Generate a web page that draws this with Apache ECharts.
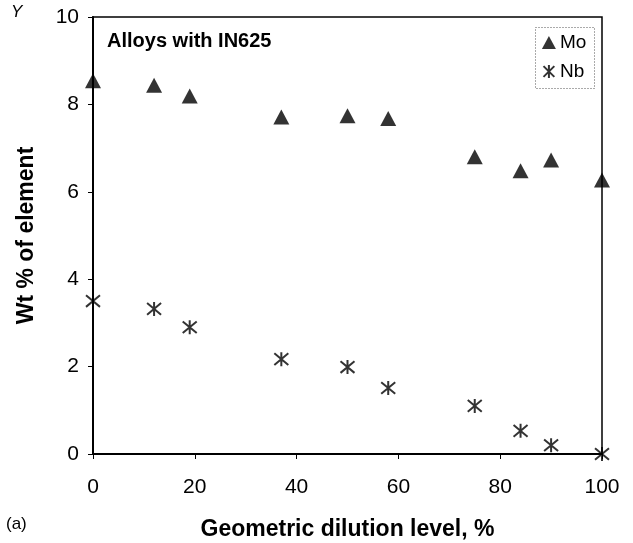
<!DOCTYPE html>
<html>
<head>
<meta charset="utf-8">
<script src="https://cdn.jsdelivr.net/npm/echarts@6/dist/echarts.min.js"></script>
<style>
  html, body { margin: 0; padding: 0; background: #fff; }
  #chart { width: 633px; height: 543px; }
</style>
</head>
<body>
<div id="chart"></div>
<script>
// Dilution level (%) for each alloy sample
const dilution = [0, 12, 19, 37, 50, 58, 75, 84, 90, 100];
// Element content, wt %
const moValues = [8.54, 8.44, 8.19, 7.71, 7.74, 7.68, 6.80, 6.48, 6.73, 6.27];
const nbValues = [3.50, 3.32, 2.90, 2.17, 1.99, 1.51, 1.10, 0.53, 0.20, 0.00];
const xTicks = [0, 20, 40, 60, 80, 100];
const yTicks = [0, 2, 4, 6, 8, 10];

const asterisk = 'path://M0,0L10,10M10,0L0,10M5,-1L5,11';
const font = 'Arial, "Liberation Sans", sans-serif';

const chart = echarts.init(document.getElementById('chart'));
chart.setOption({
  animation: false,
  backgroundColor: '#fff',
  textStyle: { fontFamily: font, color: '#000' },
  grid: {
    left: 93, right: 31, top: 17, bottom: 89,
    outerBoundsMode: 'none', containLabel: false,
    show: true, borderColor: '#000', borderWidth: 1.5
  },
  xAxis: {
    type: 'value', min: xTicks[0], max: xTicks[xTicks.length - 1], interval: 20,
    name: 'Geometric dilution level, %', nameLocation: 'middle', nameGap: 64,
    nameTextStyle: { fontSize: 23, fontWeight: 'bold', fontFamily: font, color: '#000' },
    axisLine: { lineStyle: { color: '#000', width: 2 } },
    axisTick: { show: true, length: 5, lineStyle: { color: '#000', width: 1 } },
    axisLabel: { fontSize: 21, color: '#000', margin: 23, fontFamily: font },
    splitLine: { show: false }
  },
  yAxis: {
    type: 'value', min: yTicks[0], max: yTicks[yTicks.length - 1], interval: 2,
    name: 'Wt % of element', nameLocation: 'middle', nameGap: 55,
    nameTextStyle: { fontSize: 23, fontWeight: 'bold', fontFamily: font, color: '#000' },
    axisLine: { show: true, lineStyle: { color: '#000', width: 2 } },
    axisTick: { show: true, length: 5, lineStyle: { color: '#000', width: 1 } },
    axisLabel: { fontSize: 21, color: '#000', margin: 14, fontFamily: font },
    splitLine: { show: false }
  },
  legend: {
    orient: 'vertical', left: 536, top: 28,
    itemGap: 10, itemWidth: 14, itemHeight: 13,
    textStyle: { fontSize: 19, color: '#000', fontFamily: font, padding: [0, 0, 0, -1] },
    data: [
      { name: 'Mo', icon: 'triangle' },
      { name: 'Nb', icon: asterisk }
    ]
  },
  graphic: [
    {
      type: 'rect', left: 533, top: 25,
      shape: { width: 59, height: 61 },
      style: { fill: 'none', stroke: '#555', lineWidth: 1, lineDash: [1, 2] },
      z: 1
    },
    {
      type: 'text', left: 107, top: 31,
      style: { text: 'Alloys with IN625', fontSize: 20, fontWeight: 'bold', fontFamily: font, fill: '#000' }
    },
    {
      type: 'text', left: 6, top: 516,
      style: { text: '(a)', fontSize: 17, fontFamily: font, fill: '#000' }
    },
    {
      type: 'text', left: 11, top: 4,
      style: { text: 'Y', fontSize: 17, fontStyle: 'italic', fontFamily: font, fill: '#000' }
    }
  ],
  series: [
    {
      name: 'Mo', type: 'scatter', symbol: 'triangle', symbolSize: [16, 15],
      itemStyle: { color: '#000' },
      data: dilution.map((d, i) => [d, moValues[i]]),
      z: 3
    },
    {
      name: 'Nb', type: 'scatter', symbol: asterisk, symbolSize: [14, 14],
      itemStyle: { color: 'none', borderColor: '#000', borderWidth: 2 },
      data: dilution.map((d, i) => [d, nbValues[i]]),
      z: 3
    }
  ]
});
</script>
</body>
</html>
